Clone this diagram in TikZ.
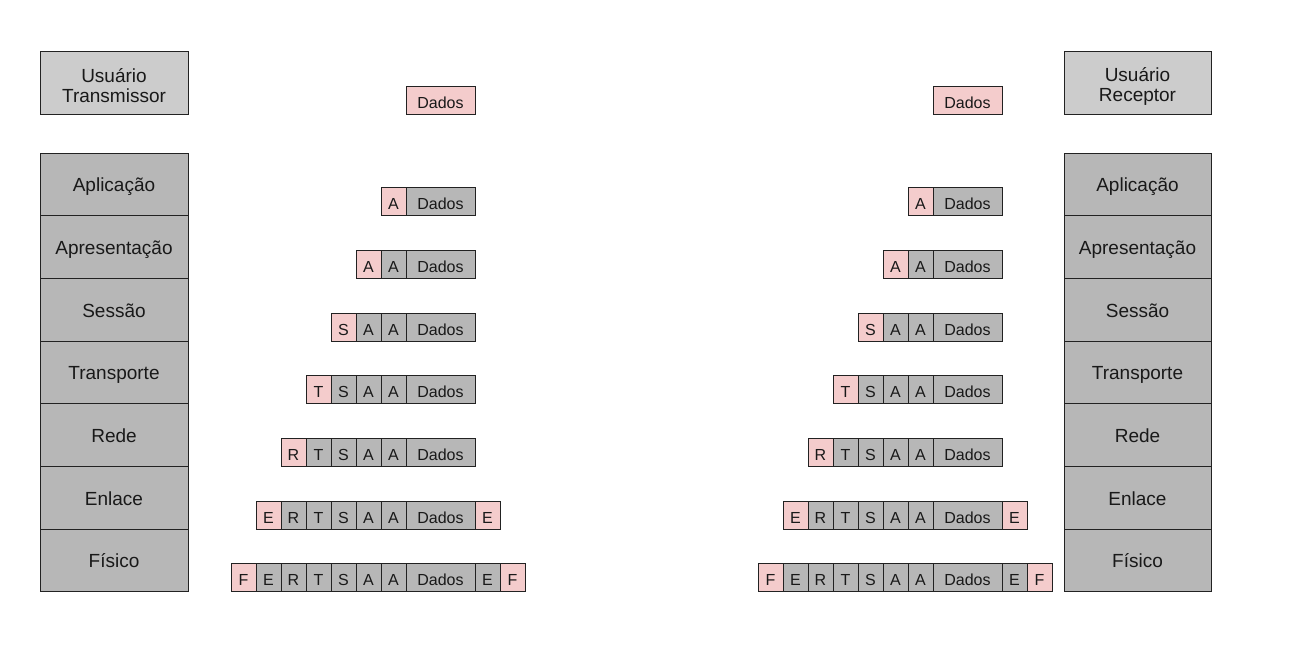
\documentclass[tikz,border=0pt]{standalone}
\usepackage{fontspec}
\setmainfont{Liberation Sans}
\definecolor{pinkc}{HTML}{F4CCCC}
\definecolor{grayc}{HTML}{B7B7B7}
\definecolor{usrc}{HTML}{CCCCCC}
\definecolor{linec}{HTML}{222222}
\begin{document}
\begin{tikzpicture}[x=1pt,y=-1pt,
  box/.style={draw=linec,line width=0.9pt,inner sep=0pt,outer sep=0pt,text=black!90},
  layer/.style={box,fill=grayc,minimum width=148pt,minimum height=62.7pt,text height=14.6pt,text depth=0pt,font=\fontsize{19}{21.6}\selectfont},
  usr/.style={box,fill=usrc,minimum width=148pt,minimum height=63pt},
  usrtext/.style={inner sep=0pt,align=center,text=black!90,font=\fontsize{19}{21.6}\selectfont},
  cellbox/.style={box,minimum height=28pt,text height=16pt,text depth=0pt,font=\fontsize{16}{18}\selectfont},
  hw/.style={minimum width=25pt},
  dw/.style={minimum width=69pt}]
\useasboundingbox (0,0) rectangle (1311,662);
% user boxes
\node[usr] (ut) at (114,82.5) {};
\node[usrtext] (ut-text) at (114,85.8) {Usuário\\[-1.4pt]Transmissor};
\node[usr,minimum width=147pt] (ur) at (1137.5,82.5) {};
\node[usrtext] (ur-text) at (1137.5,86.8) {Usuário\\[-1.4pt]Receptor};
% layers
\foreach \s/\cx/\w in {L/114/148,R/1137.5/147}{
  \foreach \n/\t in {1/Aplicação,2/Apresentação,3/Sessão,4/Transporte,5/Rede,6/Enlace,7/Físico}{
    \node[layer,minimum width=\w pt] (\s-layer-\n) at (\cx,{153+62.7*(\n-0.5)}) {\t};
  }
}
% packets
\foreach \s/\xo in {L/406,R/933}{
  \node[cellbox,dw,fill=pinkc] (\s-d0) at ({\xo+34.5},100) {Dados};
  \foreach \k in {1,...,7}{
    \pgfmathsetmacro\yc{153+62.7*\k-14}
    \node[cellbox,dw,fill=grayc] (\s-d\k) at ({\xo+34.5},\yc) {Dados};
    \foreach \i/\l in {1/A,2/A,3/S,4/T,5/R,6/E,7/F}{
      \ifnum\i>\k\relax\else
        \ifnum\i=\k\relax\def\fc{pinkc}\else\def\fc{grayc}\fi
        \node[cellbox,hw,fill=\fc] (\s-h\k-\i) at ({\xo-25*\i+12.5},\yc) {\l};
      \fi
    }
  }
  \node[cellbox,hw,fill=pinkc] (\s-t6-1) at ({\xo+81.5},{153+62.7*6-14}) {E};
  \node[cellbox,hw,fill=grayc] (\s-t7-1) at ({\xo+81.5},{153+62.7*7-14}) {E};
  \node[cellbox,hw,fill=pinkc] (\s-t7-2) at ({\xo+106.5},{153+62.7*7-14}) {F};
}
\end{tikzpicture}
\end{document}
